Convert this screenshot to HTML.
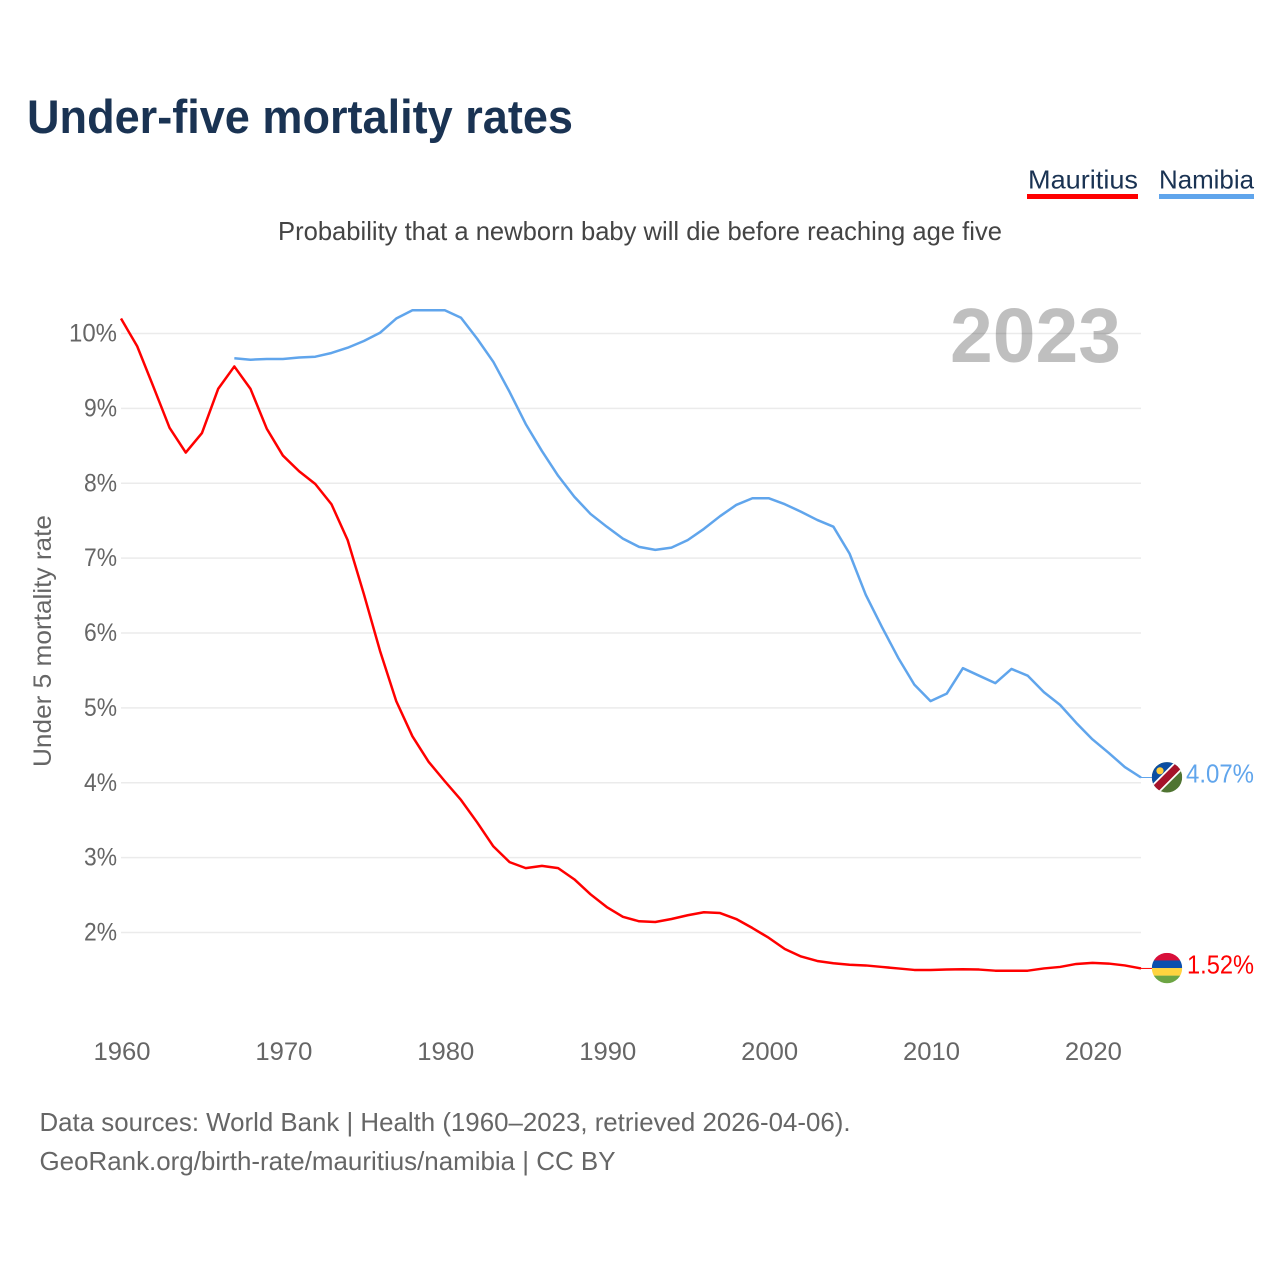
<!DOCTYPE html>
<html lang="en">
<head>
<meta charset="utf-8">
<title>Under-five mortality rates</title>
<style>
html,body{margin:0;padding:0;background:#fff;}
svg{display:block;font-family:"Liberation Sans",Arial,sans-serif;}
</style>
</head>
<body>
<svg id="chart" xmlns="http://www.w3.org/2000/svg" width="1280" height="1280" viewBox="0 0 1280 1280">
  <rect x="0" y="0" width="1280" height="1280" fill="#ffffff"/>
  <defs>
    <clipPath id="clip-na"><circle id="clip-na-circle" cx="1167" cy="776.5" r="15.2"/></clipPath>
    <clipPath id="clip-mu"><circle id="clip-mu-circle" cx="1167" cy="967.5" r="15.2"/></clipPath>
  </defs>
  <text x="27" y="133" font-size="47" font-weight="700" fill="#1a3353" textLength="546" lengthAdjust="spacingAndGlyphs">Under-five mortality rates</text>

  <g>
    <text x="1028" y="188.5" font-size="26" fill="#1a3353" textLength="110" lengthAdjust="spacingAndGlyphs">Mauritius</text>
    <rect x="1027" y="194" width="111" height="5" fill="#ff0000"/>
  </g>
  <g>
    <text x="1159" y="188.5" font-size="26" fill="#1a3353" textLength="95" lengthAdjust="spacingAndGlyphs">Namibia</text>
    <rect x="1159" y="194" width="95" height="5" fill="#60a5ec"/>
  </g>

  <text x="278" y="240" font-size="26" fill="#444444" textLength="724" lengthAdjust="spacingAndGlyphs">Probability that a newborn baby will die before reaching age five</text>

  <g id="grid"></g>
  <g id="y-ticks"></g>
  <g id="x-ticks"></g>

  <text x="950" y="362" font-size="77" font-weight="700" fill="#000000" fill-opacity="0.25" textLength="171" lengthAdjust="spacingAndGlyphs">2023</text>

  <text transform="translate(51,767) rotate(-90)" x="0" y="0" font-size="25" fill="#666666" textLength="252" lengthAdjust="spacingAndGlyphs">Under 5 mortality rate</text>

  <g id="series"></g>

  <g id="flag-na" clip-path="url(#clip-na)"></g>
  <g id="flag-mu" clip-path="url(#clip-mu)"></g>

  <text id="end-na" x="1186" font-size="26" fill="#60a5ec" textLength="68" lengthAdjust="spacingAndGlyphs"></text>
  <text id="end-mu" x="1187" font-size="26" fill="#ff0000" textLength="67" lengthAdjust="spacingAndGlyphs"></text>

  <text x="39.5" y="1131" font-size="26" fill="#666666" textLength="811" lengthAdjust="spacingAndGlyphs">Data sources: World Bank | Health (1960–2023, retrieved 2026-04-06).</text>
  <text x="39.5" y="1170" font-size="26" fill="#666666" textLength="576" lengthAdjust="spacingAndGlyphs">GeoRank.org/birth-rate/mauritius/namibia | CC BY</text>
</svg>
<script>
const yearsMauritius = [1960,1961,1962,1963,1964,1965,1966,1967,1968,1969,1970,1971,1972,1973,1974,1975,1976,1977,1978,1979,1980,1981,1982,1983,1984,1985,1986,1987,1988,1989,1990,1991,1992,1993,1994,1995,1996,1997,1998,1999,2000,2001,2002,2003,2004,2005,2006,2007,2008,2009,2010,2011,2012,2013,2014,2015,2016,2017,2018,2019,2020,2021,2022,2023];
const valuesMauritius = [10.2,9.83,9.29,8.74,8.41,8.67,9.26,9.56,9.26,8.73,8.37,8.16,7.99,7.72,7.24,6.52,5.76,5.09,4.62,4.28,4.02,3.77,3.47,3.15,2.94,2.86,2.89,2.86,2.71,2.51,2.34,2.21,2.15,2.14,2.18,2.23,2.27,2.26,2.18,2.06,1.93,1.78,1.68,1.62,1.59,1.57,1.56,1.54,1.52,1.50,1.50,1.505,1.51,1.505,1.49,1.49,1.49,1.52,1.54,1.58,1.595,1.585,1.56,1.52];
const yearsNamibia = [1967,1968,1969,1970,1971,1972,1973,1974,1975,1976,1977,1978,1979,1980,1981,1982,1983,1984,1985,1986,1987,1988,1989,1990,1991,1992,1993,1994,1995,1996,1997,1998,1999,2000,2001,2002,2003,2004,2005,2006,2007,2008,2009,2010,2011,2012,2013,2014,2015,2016,2017,2018,2019,2020,2021,2022,2023];
const valuesNamibia = [9.67,9.65,9.66,9.66,9.68,9.69,9.74,9.81,9.90,10.01,10.2,10.31,10.31,10.31,10.21,9.93,9.62,9.22,8.79,8.43,8.10,7.82,7.59,7.42,7.26,7.15,7.11,7.14,7.24,7.39,7.56,7.71,7.80,7.80,7.72,7.62,7.51,7.42,7.06,6.51,6.08,5.67,5.31,5.09,5.19,5.53,5.43,5.33,5.52,5.43,5.21,5.04,4.80,4.58,4.40,4.21,4.07];
const yTickValues = [2,3,4,5,6,7,8,9,10];
const xTickYears = [1960,1970,1980,1990,2000,2010,2020];

const NS = 'http://www.w3.org/2000/svg';
function xScale(year){ return 121 + (year - 1960) * (1141 - 121) / 63; }
function yScale(value){ return 932.5 - (value - 2) * 74.875; }
function make(tag, attrs, parent){
  const el = document.createElementNS(NS, tag);
  for (const k in attrs) el.setAttribute(k, attrs[k]);
  parent.appendChild(el);
  return el;
}

const gridGroup = document.getElementById('grid');
const yTickGroup = document.getElementById('y-ticks');
yTickValues.forEach(function(v){
  const line = make('line', {x1:121, x2:1141, y1:yScale(v), y2:yScale(v), stroke:'#ebebeb', 'stroke-width':1.4}, gridGroup);
  
  
  const label = make('text', {x:117, y:yScale(v)+8, 'font-size':25, fill:'#666666', 'text-anchor':'end', textLength:(v >= 10 ? 48 : 33), lengthAdjust:'spacingAndGlyphs'}, yTickGroup);
  
  
  label.textContent = v + '%';
});

const xTickGroup = document.getElementById('x-ticks');
xTickYears.forEach(function(year){
  const label = make('text', {x:xScale(year)+1, y:1060, 'font-size':25, fill:'#666666', 'text-anchor':'middle', textLength:57, lengthAdjust:'spacingAndGlyphs'}, xTickGroup);
  
  
  label.textContent = String(year);
});

const seriesGroup = document.getElementById('series');
function linePath(years, values){
  return values.map(function(v, i){ return (i ? 'L' : 'M') + xScale(years[i]).toFixed(2) + ' ' + yScale(v).toFixed(2); }).join(' ');
}
const namibiaLine = make('path', {d:linePath(yearsNamibia, valuesNamibia), fill:'none', stroke:'#60a5ec', 'stroke-width':2.5, 'stroke-linejoin':'round'}, seriesGroup);


const mauritiusLine = make('path', {d:linePath(yearsMauritius, valuesMauritius), fill:'none', stroke:'#ff0000', 'stroke-width':2.5, 'stroke-linejoin':'round'}, seriesGroup);



const lastNa = valuesNamibia[valuesNamibia.length - 1];
const lastMu = valuesMauritius[valuesMauritius.length - 1];
const naY = yScale(lastNa);
const muY = yScale(lastMu);

const connectorNa = make('line', {x1:1141, x2:1152, y1:naY, y2:naY, stroke:'#60a5ec', 'stroke-width':1}, seriesGroup);


const connectorMu = make('line', {x1:1141, x2:1152, y1:muY, y2:muY, stroke:'#ff0000', 'stroke-width':1}, seriesGroup);



/* Flags follow the last value of each series */
const cx = 1167, r = 15.2;
const naCy = naY - 0.2, muCy = muY - 0.4;
document.getElementById('clip-na-circle').setAttribute('cy', naCy);
document.getElementById('clip-mu-circle').setAttribute('cy', muCy);

const flagNa = document.getElementById('flag-na');
make('rect', {x:cx-r, y:naCy-r, width:2*r, height:2*r, fill:'#4f7431'}, flagNa);
make('polygon', {points:[(cx-r)+','+(naCy-r), (cx+r)+','+(naCy-r), (cx-r)+','+(naCy+r)].join(' '), fill:'#0b4ea2'}, flagNa);
make('line', {x1:cx-r, y1:naCy+r, x2:cx+r, y2:naCy-r, stroke:'#ffffff', 'stroke-width':11}, flagNa);
make('line', {x1:cx-r, y1:naCy+r, x2:cx+r, y2:naCy-r, stroke:'#a5122a', 'stroke-width':7.5}, flagNa);
make('circle', {cx:cx-7, cy:naCy-6.5, r:3.6, fill:'#ffce3d'}, flagNa);

const flagMu = document.getElementById('flag-mu');
const stripeColors = ['#d80f3a', '#0a4fae', '#ffd43f', '#6da544'];
stripeColors.forEach(function(color, i){
  make('rect', {x:cx-r, y:muCy-r+i*(r/2), width:2*r, height:r/2+0.2, fill:color}, flagMu);
});

const endNa = document.getElementById('end-na');
endNa.setAttribute('y', naY + 5);
endNa.textContent = lastNa.toFixed(2) + '%';
const endMu = document.getElementById('end-mu');
endMu.setAttribute('y', muY + 5);
endMu.textContent = lastMu.toFixed(2) + '%';
</script>
</body>
</html>
